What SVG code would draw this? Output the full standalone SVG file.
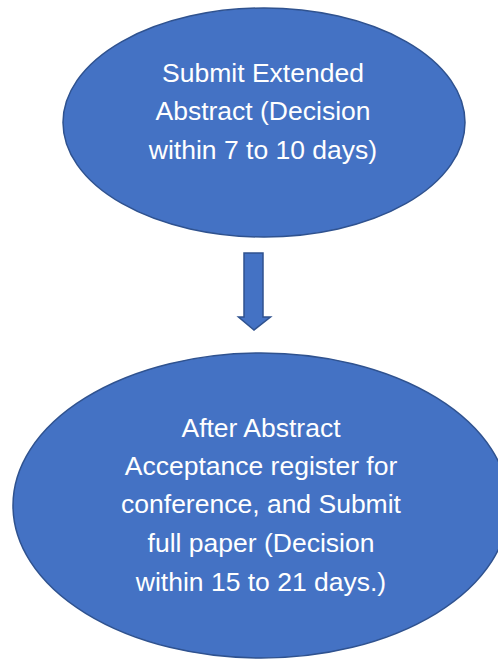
<svg xmlns="http://www.w3.org/2000/svg" width="498" height="660" viewBox="0 0 498 660">
<style>
.shape{fill:#4472C4;stroke:#2F528F;stroke-width:1.5}
.lbl{font-family:"Liberation Sans",Arial,sans-serif;font-size:26.5px;fill:#ffffff;text-anchor:middle}
</style>
<rect width="498" height="660" fill="#ffffff"/>
<g id="node-submit-abstract">
<ellipse class="shape" cx="264" cy="122.5" rx="201" ry="114.5"/>
<text class="lbl" x="263" y="82">Submit Extended</text>
<text class="lbl" x="263" y="120">Abstract (Decision</text>
<text class="lbl" x="263" y="159">within 7 to 10 days)</text>
</g>
<g id="connectors">
<path class="shape" d="M244,253 H263 V317 H270.5 L254,330 L238.5,317 H244 Z"/>
</g>
<g id="node-full-paper">
<ellipse class="shape" cx="261" cy="505.5" rx="248" ry="152.5"/>
<text class="lbl" x="261" y="437">After Abstract</text>
<text class="lbl" x="261" y="475">Acceptance register for</text>
<text class="lbl" x="261" y="513">conference, and Submit</text>
<text class="lbl" x="261" y="552">full paper (Decision</text>
<text class="lbl" x="261" y="591">within 15 to 21 days.)</text>
</g>
</svg>
